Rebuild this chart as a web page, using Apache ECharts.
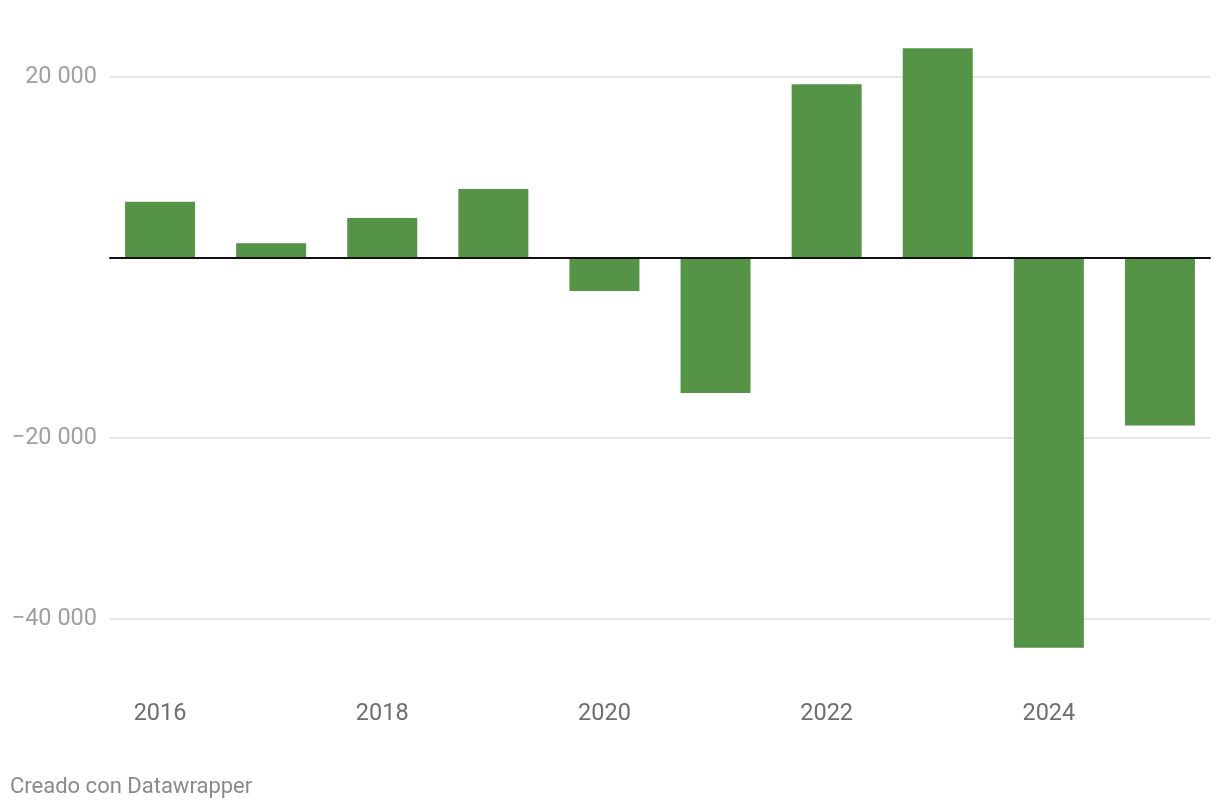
<!DOCTYPE html>
<html>
<head>
<meta charset="utf-8">
<script src="https://cdn.jsdelivr.net/npm/echarts@6/dist/echarts.min.js"></script>
<style>
html,body{margin:0;padding:0;background:#fff;}
#chart{width:1220px;height:808px;}
</style>
</head>
<body>
<div id="chart"></div>
<script>
const years = ['2016','2017','2018','2019','2020','2021','2022','2023','2024','2025'];
const values = [6200, 1600, 4400, 7600, -3700, -15000, 19200, 23200, -43200, -18600];
const yTicks = [-40000, -20000, 0, 20000];
const yTickLabels = ['\u221240 000', '\u221220 000', '', '20 000'];

const chart = echarts.init(document.getElementById('chart'), null, {renderer: 'canvas'});
const FONT = 'Roboto';
chart.setOption({
  animation: false,
  backgroundColor: '#ffffff',
  textStyle: {fontFamily: FONT},
  title: {
    text: 'Creado con Datawrapper',
    left: 10, top: 776,
    padding: 0,
    textStyle: {fontFamily: FONT, fontSize: 22, fontWeight: 'normal', color: '#8a8a8a'}
  },
  grid: [
    {left: 110, right: 10, top: 77, bottom: 189.3},
    {left: 104.5, right: 4.5, top: 32, bottom: 117}
  ],
  xAxis: [
    {
      gridIndex: 0, type: 'category', data: years, z: 10,
      axisLine: {show: true, onZero: true, lineStyle: {color: '#111111', width: 2}},
      axisTick: {show: false}, axisLabel: {show: false}, splitLine: {show: false}
    },
    {
      gridIndex: 1, type: 'category', data: years,
      axisLine: {show: false}, axisTick: {show: false},
      axisLabel: {interval: 1, color: '#6e6e6e', fontSize: 23.5, fontFamily: FONT, margin: 11}
    }
  ],
  yAxis: [
    {
      gridIndex: 0, type: 'value', min: -40000, max: 20000, interval: 20000,
      axisLine: {show: false}, axisTick: {show: false},
      axisLabel: {
        margin: 13, color: '#a0a0a0', fontSize: 23.5, fontFamily: FONT,
        formatter: function (v) { const i = yTicks.indexOf(v); return i >= 0 ? yTickLabels[i] : ''; }
      },
      splitLine: {show: true, lineStyle: {color: '#e6e6e6', width: 2}}
    },
    {
      gridIndex: 1, type: 'value', min: -48000, max: 25000, show: false,
      splitLine: {show: false}
    }
  ],
  series: [{
    type: 'bar', xAxisIndex: 1, yAxisIndex: 1,
    data: values, barWidth: 70,
    itemStyle: {color: '#559346'}
  }]
});
</script>
</body>
</html>
